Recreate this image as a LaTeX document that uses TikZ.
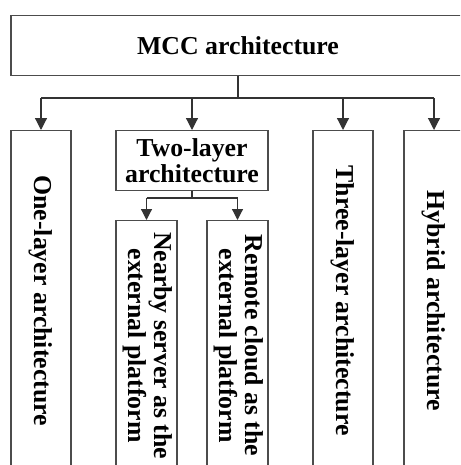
\documentclass[tikz,border=0pt]{standalone}
\usepackage{fontspec}
\setmainfont{Liberation Serif}
\usepackage{graphicx}
\usetikzlibrary{arrows.meta}

\tikzset{
  archbox/.style={draw=black!70, line width=0.65pt, inner sep=0pt, anchor=north,
    font=\bfseries\fontsize{12.9}{13.2}\selectfont, align=center},
  arr/.style={-{Triangle[length=6pt,width=6pt]}, line width=0.6pt, draw=black!80},
  subarr/.style={-{Triangle[length=5.5pt,width=5.5pt]}, line width=0.6pt, draw=black!80},
}

\begin{document}
\begin{tikzpicture}[x=0.5pt,y=0.5pt]
	\useasboundingbox (0,0) rectangle (460,-465);
	\clip (0,0) rectangle (460,-465);
	
	\node[archbox, minimum width=227pt, minimum height=30pt] (mcc) at (238,-15) {MCC architecture};
	
	\node[archbox, minimum width=30pt, minimum height=170pt] (one) at (41,-130) {\rotatebox{-90}{One-layer architecture}};
	\node[archbox, minimum width=76pt, minimum height=30pt] (two) at (192,-130) {Two-layer\\architecture};
	\node[archbox, minimum width=30pt, minimum height=170pt] (three) at (343,-130) {\rotatebox{-90}{Three-layer architecture}};
	\node[archbox, minimum width=30pt, minimum height=170pt] (hybrid) at (434,-130) {\rotatebox{-90}{Hybrid architecture}};
	
	\node[archbox, minimum width=30.5pt, minimum height=125pt] (nearby) at (146.5,-220) {\rotatebox{-90}{\begin{tabular}{@{}c@{}}Nearby server as the\\external platform\end{tabular}}};
	\node[archbox, minimum width=30.5pt, minimum height=125pt] (remote) at (237.5,-220) {\rotatebox{-90}{\begin{tabular}{@{}c@{}}Remote cloud as the\\external platform\end{tabular}}};
	
	% Top level connectors.
	\coordinate (hub) at (238,-98);
	\draw[line width=0.6pt, black!80] (mcc.south) -- (hub);
	\draw[line width=0.6pt, black!80] (one.north |- hub) -- (hybrid.north |- hub);
	\foreach \n in {one,two,three,hybrid}
		\draw[arr] (\n.north |- hub) -- (\n.north);
	
	% Two-layer connectors.
	\coordinate (subhub) at (192,-198);
	\draw[line width=0.6pt, black!80] (two.south) -- (subhub);
	\draw[line width=0.6pt, black!80] (nearby.north |- subhub) -- (remote.north |- subhub);
	\foreach \n in {nearby,remote}
		\draw[subarr] (\n.north |- subhub) -- (\n.north);
\end{tikzpicture}
\end{document}
